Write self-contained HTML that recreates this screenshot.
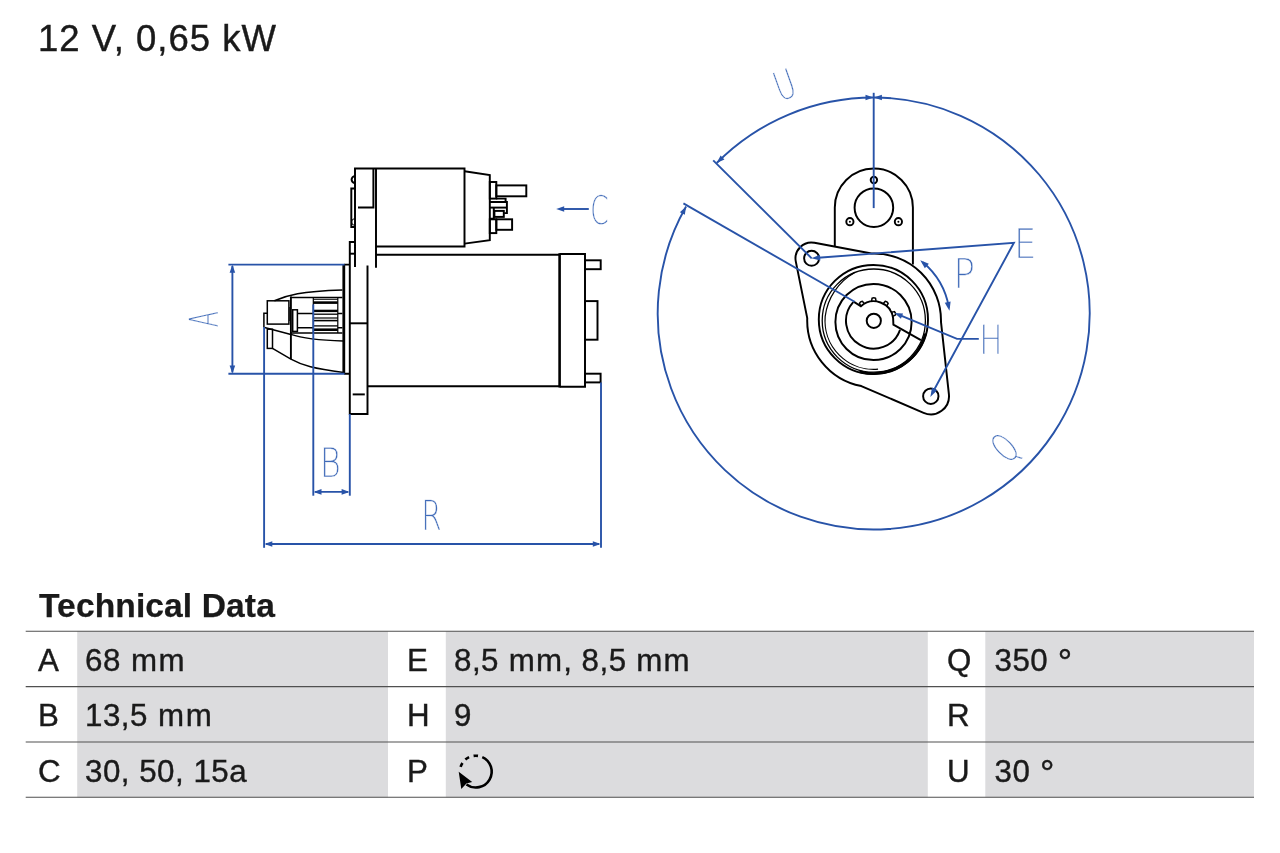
<!DOCTYPE html>
<html lang="en">
<head>
<meta charset="utf-8">
<title>12 V, 0,65 kW</title>
<style>
  html, body { margin: 0; padding: 0; background: #ffffff; }
  body { width: 1280px; height: 853px; position: relative; overflow: hidden;
         font-family: "Liberation Sans", sans-serif; color: #1a1a1a; }
  #title, #heading, #table, #drawing, #rot, #tablebg { will-change: transform; }
  #title { position: absolute; left: 38.2px; top: 17.9px; margin: 0; font-size: 36.5px; line-height: 42px;
           font-weight: normal; letter-spacing: 1px; white-space: nowrap; -webkit-text-stroke: 0.42px #1a1a1a; }
  #heading { position: absolute; left: 39.2px; top: 585.7px; margin: 0; font-size: 33.6px; line-height: 40px;
           font-weight: bold; letter-spacing: 0.1px; white-space: nowrap; -webkit-text-stroke: 0.25px #1a1a1a; }
  #drawing { position: absolute; left: 0; top: 0; width: 1280px; height: 853px; }
  #tablebg { position: absolute; left: 0; top: 620px; width: 1280px; height: 190px; }
  #table { position: absolute; left: 26px; top: 631.8px; width: 1228px; height: 167px; }
  .row { position: absolute; left: 0; width: 1228px; height: 55.4px; }
  .cell { position: absolute; top: 0; height: 55.4px; font-size: 31.3px; line-height: 57px; white-space: nowrap; -webkit-text-stroke: 0.4px #1a1a1a; box-sizing: border-box; }
  .k { padding-left: 12px; }
  .v { padding-left: 8px; letter-spacing: 0.5px; }
  .m { letter-spacing: 1.5px; }
  .deg { font-size: 36px; line-height: 0; position: relative; top: 4px; }
  .k1 { left: 0; width: 51px; }
  .v1 { left: 51px; width: 311px; }
  .k2 { left: 362px; width: 58px; padding-left: 19px; }
  .v2 { left: 420px; width: 482px; }
  .v2 .m { letter-spacing: 1.1px; }
  .k3 { left: 902px; width: 57px; padding-left: 19px; }
  .v3 { left: 959px; width: 269px; padding-left: 9.5px; word-spacing: 0.4px; }
</style>
</head>
<body>
<h1 id="title">12 V, 0,65 kW</h1>
<svg id="drawing" width="1280" height="853" viewBox="0 0 1280 853">
<g id="side" fill="none" stroke="#000000" stroke-width="1.95" stroke-linecap="butt" stroke-linejoin="miter">
<path d="M355,267 V168.5 H464.5 V246.4 H376"/>
<path d="M376,168.5 V267.7"/>
<path d="M373.4,168.5 V207.5 H358"/>
<path d="M464.5,171.2 L489.8,175 V240.2 L464.5,243.6"/>
<path d="M355,176.2 A3.4,3.4 0 0 0 355,183"/>
<path d="M355,188.5 H351.3 V227 H355"/>
<path d="M355,218.6 A3.4,3.4 0 0 0 355,225.4" stroke-width="1"/>
<rect x="489.8" y="182" width="6.5" height="16.6"/>
<rect x="496.3" y="185.4" width="30" height="10.9"/>
<path d="M496.3,198.6 H505.6 V201.9"/>
<path d="M489.8,201.9 H506.9 V213.1 H504.2"/>
<path d="M489.8,207.6 H506.9"/>
<path d="M489.8,218.8 H493.8 V208"/>
<rect x="494.4" y="210.9" width="9.4" height="6"/>
<rect x="489.8" y="219.3" width="6.5" height="13.8"/>
<rect x="496.3" y="219.3" width="15.8" height="10.5"/>
<path d="M355,241.9 H349.8 V414 H367.5 V265.6"/>
<path d="M349.8,253.7 H355"/>
<path d="M349.8,323.3 H367.5"/>
<path d="M352.7,394.4 H364.8"/>
<path d="M344,264.6 H349.8 M344,373.7 H349.8"/>
<path d="M376,254.8 H559.5"/>
<path d="M367.5,386.3 H559.5"/>
<path d="M559.5,254 H585 V386.7 H559.5"/>
<path d="M559.6,253.3 V387.4" stroke-width="2.6"/>
<rect x="585" y="260.3" width="15.7" height="8.9"/>
<rect x="585" y="301.1" width="12.5" height="38.6"/>
<rect x="585" y="373.7" width="15.6" height="8.7"/>
<path d="M343.8,264.6 V373.4" stroke-width="2.8"/>
<g stroke-width="1.5">
<path d="M274.4,300.7 C288,294.8 300,291.4 342.4,290"/>
<rect x="267.3" y="300.8" width="21.6" height="23.3"/>
<path d="M267.3,313.3 H263.9 V327.2"/>
<path d="M290.9,296.4 V359.2" stroke-width="1.9"/>
<path d="M289.8,307 V321" stroke-width="1"/>
<path d="M290.9,297.4 H342.4"/>
<rect x="292.7" y="309.8" width="4.7" height="21.6"/>
<path d="M297.4,313.4 H313.3 M297.4,327.8 H313.3 M337.8,313.6 H342.4 M337.8,327.8 H342.4"/>
<path d="M290.9,333 H342.4"/>
<path d="M313.3,297.4 V333 M337.8,297.4 V333" stroke-width="1.2"/>
<path d="M313.3,299.3 H337.8" stroke-width="1"/>
<path d="M313.3,302.6 H337.8" stroke-width="2.6"/>
<path d="M313.3,310.9 H337.8" stroke-width="2.4"/>
<path d="M313.3,314.2 H337.8" stroke-width="1.3"/>
<path d="M313.3,318 H337.8" stroke-width="1.2"/>
<path d="M313.3,320.6 H337.8" stroke-width="1.6"/>
<path d="M313.3,325.9 H337.8" stroke-width="1.3"/>
<path d="M313.3,329.7 H337.8" stroke-width="2.6"/>
<path d="M264.6,327.6 L290.9,334.4 C303,338.6 318,340.3 343,341"/>
<rect x="267.3" y="329.2" width="5.2" height="19.2"/>
<path d="M272.5,348.4 L290.9,359.2 C303,365.8 313.3,368.6 343.6,372.4"/>
</g>
</g>
<g id="side-dim" fill="none" stroke="#2853a8" stroke-width="1.9">
<path d="M228.4,264.6 H344.6"/>
<path d="M228.4,373.8 H344.6"/>
<path d="M232.4,266 V372.4"/>
<path d="M264.1,327 V547.8"/>
<path d="M313.3,304.4 V495.7"/>
<path d="M349.8,414 V495.7"/>
<path d="M601,382.4 V547.8"/>
<path d="M315,491.9 H348"/>
<path d="M266,544 H599"/>
<path d="M564,209 H588.8"/>
</g>
<polygon points="232.40,264.80 235.20,272.80 229.60,272.80" fill="#2853a8" stroke="none"/>
<polygon points="232.40,373.60 229.60,365.60 235.20,365.60" fill="#2853a8" stroke="none"/>
<polygon points="313.50,491.90 321.50,489.10 321.50,494.70" fill="#2853a8" stroke="none"/>
<polygon points="349.60,491.90 341.60,494.70 341.60,489.10" fill="#2853a8" stroke="none"/>
<polygon points="264.30,544.00 272.30,541.20 272.30,546.80" fill="#2853a8" stroke="none"/>
<polygon points="600.80,544.00 592.80,546.80 592.80,541.20" fill="#2853a8" stroke="none"/>
<polygon points="556.20,209.00 564.20,206.20 564.20,211.80" fill="#2853a8" stroke="none"/>
<g id="front" fill="none" stroke="#000000" stroke-width="1.95" stroke-linejoin="round">
<path d="M834.8,246.6 V207.6 A39,39 0 0 1 912.9,207.6 V264.6"/>
<circle cx="873.9" cy="207.7" r="19.3"/>
<circle cx="873.9" cy="180" r="3.2"/>
<circle cx="849.9" cy="221.7" r="3.6"/><circle cx="849.9" cy="221.7" r="1" fill="#000" stroke="none"/>
<circle cx="898.4" cy="221.7" r="3.6"/><circle cx="898.4" cy="221.7" r="1" fill="#000" stroke="none"/>
<circle cx="811.6" cy="258.3" r="7.5"/>
<circle cx="930.8" cy="396.2" r="7.7"/>
<path d="M814.47,242.78 L871.53,253.55 A66.9,66.9 0 0 1 940.98,321.92 L948.89,394.22 A18.2,18.2 0 0 1 923.59,412.91 L861.33,386.07 A66.9,66.9 0 0 1 807.24,318.18 L795.82,261.67 A16.0,16.0 0 0 1 814.47,242.78 Z"/>
<circle cx="873.4" cy="319.5" r="54.6"/>
<path d="M925.56,333.48 A54.0,54.0 0 0 1 859.42,371.66" stroke-width="2.7"/>
<circle cx="873.8" cy="320.6" r="51.6" stroke-width="1.3"/>
<path d="M878.05,369.21 A48.8,48.8 0 0 1 825.19,316.35 A58,58 0 0 1 854.47,272.76" stroke-width="1.2"/>
<circle cx="873.5" cy="322" r="38.1"/>
<path d="M900.05,329.94 A27.8,27.8 0 1 1 853.24,302.09"/>
<circle cx="873.8" cy="320.8" r="7.1"/>
<path d="M853.6,301.6 L860.88,306.20 A19.5,19.5 0 0 1 893.11,318.09 L893.4,324.7 L920.9,340.2" stroke-linejoin="miter"/>
<path d="M860.88,306.20 L859.42,303.36 Q860.38,301.63 862.33,301.33 L864.50,303.66" stroke-width="1.5"/>
<path d="M871.59,301.43 L872.03,298.27 Q873.80,297.40 875.57,298.27 L876.01,301.43" stroke-width="1.5"/>
<path d="M883.10,303.66 L885.27,301.33 Q887.22,301.63 888.18,303.36 L886.72,306.20" stroke-width="1.5"/>
<path d="M891.33,312.25 L894.45,311.61 Q895.86,312.99 895.63,314.95 L892.80,316.41" stroke-width="1.5"/>
</g>
<!--FRONT-EXTRA-->
<g id="front-dim" fill="none" stroke="#2853a8" stroke-width="1.9">
<path d="M716.70,163.00 A220.9,220.9 0 0 1 873.70,97.50"/>
<path d="M873.70,97.50 A216,216 0 1 1 686.08,206.48"/>
<path d="M873.7,92.8 V208.1"/>
<path d="M713.2,160.3 L811.7,258.3"/>
<path d="M683.4,203.4 L854.6,301.8"/>
<path d="M818,257.8 L1013.9,242.8 L934,390"/>
<path d="M901,315.7 L957,338.9 H978.8"/>
<path d="M922.84,262.35 A76.3,76.3 0 0 1 948.94,307.55"/>
</g>
<polygon points="873.50,97.50 865.50,100.30 865.50,94.70" fill="#2853a8" stroke="none"/>
<polygon points="873.90,97.50 881.90,94.70 881.90,100.30" fill="#2853a8" stroke="none"/>
<polygon points="716.70,163.00 720.60,155.48 724.44,159.56" fill="#2853a8" stroke="none"/>
<polygon points="686.08,206.48 684.84,214.87 679.88,212.26" fill="#2853a8" stroke="none"/>
<polygon points="811.40,258.30 819.95,254.73 820.40,260.52" fill="#2853a8" stroke="none"/>
<polygon points="930.30,396.90 932.05,387.61 937.14,390.37" fill="#2853a8" stroke="none"/>
<polygon points="894.60,313.00 903.06,313.47 900.92,318.65" fill="#2853a8" stroke="none"/>
<polygon points="920.25,260.27 928.83,263.85 924.85,268.35" fill="#2853a8" stroke="none"/>
<polygon points="949.45,310.84 944.75,302.82 950.63,301.62" fill="#2853a8" stroke="none"/>
<text transform="translate(203.60,319.20) rotate(-90) scale(0.5899,1.0032) translate(-13.620,14.580)" x="0" y="0" font-family="'DejaVu Sans Light', 'DejaVu Sans', 'Liberation Sans', sans-serif" font-weight="200" font-size="40" fill="#3f6ab8" stroke="#ffffff" stroke-width="0.42" vector-effect="non-scaling-stroke" text-rendering="geometricPrecision">A</text>
<text transform="translate(331.30,462.50) scale(0.7894,1.0203) translate(-14.200,14.580)" x="0" y="0" font-family="'DejaVu Sans Light', 'DejaVu Sans', 'Liberation Sans', sans-serif" font-weight="200" font-size="40" fill="#3f6ab8" stroke="#ffffff" stroke-width="0.42" vector-effect="non-scaling-stroke" text-rendering="geometricPrecision">B</text>
<text transform="translate(432.40,514.40) scale(0.7361,1.0374) translate(-15.280,14.580)" x="0" y="0" font-family="'DejaVu Sans Light', 'DejaVu Sans', 'Liberation Sans', sans-serif" font-weight="200" font-size="40" fill="#3f6ab8" stroke="#ffffff" stroke-width="0.42" vector-effect="non-scaling-stroke" text-rendering="geometricPrecision">R</text>
<text transform="translate(599.75,209.20) scale(0.6574,0.9872) translate(-14.540,14.560)" x="0" y="0" font-family="'DejaVu Sans Light', 'DejaVu Sans', 'Liberation Sans', sans-serif" font-weight="200" font-size="40" fill="#3f6ab8" stroke="#ffffff" stroke-width="0.42" vector-effect="non-scaling-stroke" text-rendering="geometricPrecision">C</text>
<text transform="translate(1025.80,243.50) scale(0.8840,1.0169) translate(-13.280,14.580)" x="0" y="0" font-family="'DejaVu Sans Light', 'DejaVu Sans', 'Liberation Sans', sans-serif" font-weight="200" font-size="40" fill="#3f6ab8" stroke="#ffffff" stroke-width="0.42" vector-effect="non-scaling-stroke" text-rendering="geometricPrecision">E</text>
<text transform="translate(965.45,272.65) scale(0.8921,1.0272) translate(-13.260,14.580)" x="0" y="0" font-family="'DejaVu Sans Light', 'DejaVu Sans', 'Liberation Sans', sans-serif" font-weight="200" font-size="40" fill="#3f6ab8" stroke="#ffffff" stroke-width="0.42" vector-effect="non-scaling-stroke" text-rendering="geometricPrecision">P</text>
<text transform="translate(990.80,339.45) scale(0.7733,1.0134) translate(-15.000,14.580)" x="0" y="0" font-family="'DejaVu Sans Light', 'DejaVu Sans', 'Liberation Sans', sans-serif" font-weight="200" font-size="40" fill="#3f6ab8" stroke="#ffffff" stroke-width="0.42" vector-effect="non-scaling-stroke" text-rendering="geometricPrecision">H</text>
<text transform="translate(784.70,84.70) rotate(-19.7) scale(0.7014,1.0044) translate(-14.640,14.300)" x="0" y="0" font-family="'DejaVu Sans Light', 'DejaVu Sans', 'Liberation Sans', sans-serif" font-weight="200" font-size="40" fill="#3f6ab8" stroke="#ffffff" stroke-width="0.42" vector-effect="non-scaling-stroke" text-rendering="geometricPrecision">U</text>
<text transform="translate(1004.40,447.60) rotate(-44) scale(0.6231,1.0202) translate(-15.760,14.560)" x="0" y="0" font-family="'DejaVu Sans Light', 'DejaVu Sans', 'Liberation Sans', sans-serif" font-weight="200" font-size="40" fill="#3f6ab8" stroke="#ffffff" stroke-width="0.42" vector-effect="non-scaling-stroke" text-rendering="geometricPrecision">Q</text>
</svg>
<h2 id="heading">Technical Data</h2>
<svg id="tablebg" width="1280" height="190" viewBox="0 620 1280 190">
  <rect x="77.2" y="631.2" width="310.8" height="166.1" fill="#dcdcde"/>
  <rect x="445.8" y="631.2" width="482" height="166.1" fill="#dcdcde"/>
  <rect x="985.3" y="631.2" width="268.7" height="166.1" fill="#dcdcde"/>
  <g stroke="#505050" stroke-width="1.1" fill="none">
    <path d="M25.7,631.2 H1254 M25.7,686.6 H1254 M25.7,742 H1254 M25.7,797.3 H1254"/>
  </g>
</svg>
<div id="table">
  <div class="row" style="top:0">
    <div class="cell k k1">A</div><div class="cell v v1">68<span class="m"> mm</span></div>
    <div class="cell k k2">E</div><div class="cell v v2">8,5<span class="m"> mm</span>, 8,5<span class="m"> mm</span></div>
    <div class="cell k k3">Q</div><div class="cell v v3">350 <span class="deg">°</span></div>
  </div>
  <div class="row" style="top:55.4px">
    <div class="cell k k1">B</div><div class="cell v v1">13,5<span class="m"> mm</span></div>
    <div class="cell k k2">H</div><div class="cell v v2">9</div>
    <div class="cell k k3">R</div><div class="cell v v3"></div>
  </div>
  <div class="row" style="top:110.8px">
    <div class="cell k k1">C</div><div class="cell v v1">30, 50, 15a</div>
    <div class="cell k k2">P</div><div class="cell v v2"></div>
    <div class="cell k k3">U</div><div class="cell v v3">30 <span class="deg">°</span></div>
  </div>
</div>
<svg id="rot" width="70" height="50" viewBox="440 745 70 50" style="position:absolute;left:440px;top:745px"><g fill="none" stroke="#000" stroke-width="2.6"><path d="M482.27,757.07 A15.9,15.9 0 1 1 466.45,784.46"/><path d="M473.59,755.85 A15.9,15.9 0 0 1 478.01,755.85"/><path d="M465.37,759.60 A15.9,15.9 0 0 1 469.08,757.19"/><path d="M460.59,766.95 A15.9,15.9 0 0 1 462.47,762.94"/></g><polygon points="458.7,771.8 472.2,782 466.4,783.6 461.3,788.9" fill="#000"/></svg>
</body>
</html>
